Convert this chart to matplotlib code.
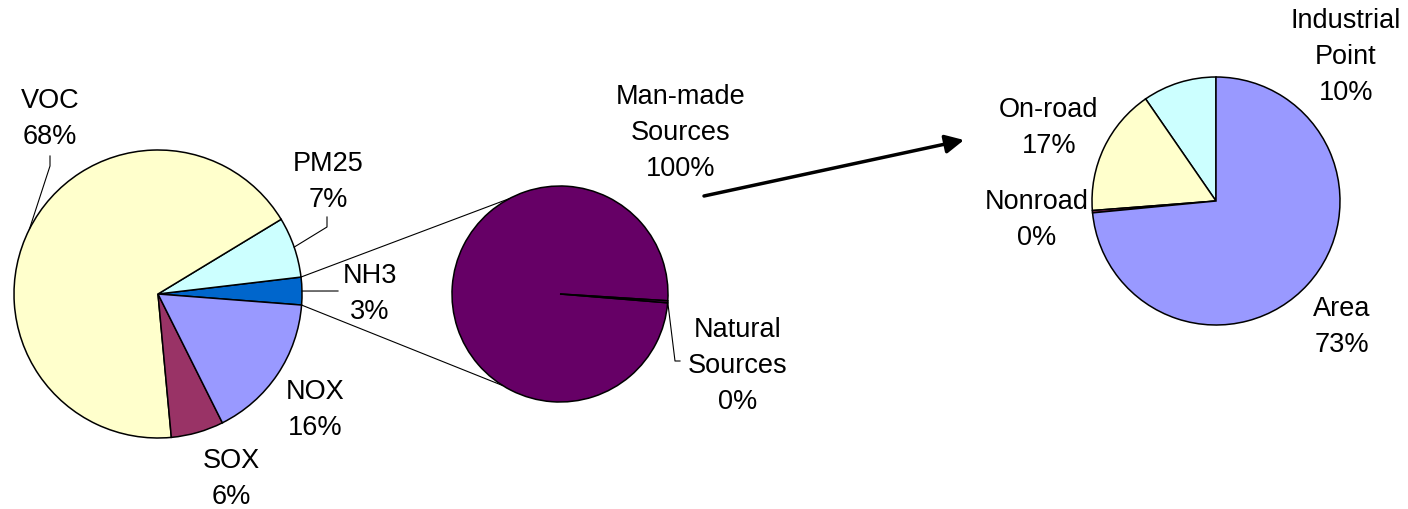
#!/usr/bin/env python3
# -*- coding: utf-8 -*-
#
# 排放源饼图 (pie of pie + breakdown)
#

import matplotlib.pyplot as plt
import numpy as np

plt.rcParams['font.family'] = ['Liberation Sans', 'DejaVu Sans']
plt.rcParams['font.size'] = 19.5

W, H = 1408, 510

# 左图：污染物
pollutants = ['NH3', 'PM25', 'VOC', 'SOX', 'NOX']
pollutant_pct = [3.1, 6.8, 67.8, 5.9, 16.4]
pollutant_colors = ['#0066CC', '#CCFFFF', '#FFFFCC', '#993366', '#9999FF']

# 中图：NH3 来源
sources = ['Man-made\nSources', 'Natural\nSources']
source_pct = [99.7, 0.3]
source_colors = ['#660066', '#660066']

# 右图：人为来源分类
sectors = ['Industrial\nPoint', 'On-road', 'Nonroad', 'Area']
sector_pct = [9.6, 16.6, 0.3, 73.4]
sector_colors = ['#CCFFFF', '#FFFFCC', '#993366', '#9999FF']


def px(x, y):
    """像素坐标 (原点左上) -> 数据坐标"""
    return x, H - y


def edge_point(center, r, ang):
    a = np.deg2rad(ang)
    return center[0] + r * np.cos(a), center[1] + r * np.sin(a)


fig = plt.figure(figsize=(W / 100, H / 100), dpi=100)
ax = fig.add_axes([0, 0, 1, 1])

wp = dict(edgecolor='black', linewidth=1.1)

c1, r1 = px(158, 295), 144
c2, r2 = px(560, 295), 108
c3, r3 = px(1216, 202), 124

w1, _ = ax.pie(pollutant_pct, colors=pollutant_colors, startangle=-4.4,
               center=c1, radius=r1, wedgeprops=wp)
w2, _ = ax.pie(source_pct, colors=source_colors, startangle=-3.6,
               center=c2, radius=r2, wedgeprops=wp)
w3, _ = ax.pie(sector_pct, colors=sector_colors, startangle=90,
               center=c3, radius=r3, wedgeprops=wp)

ax.set_xlim(0, W)
ax.set_ylim(0, H)
ax.set_aspect('equal')
ax.axis('off')

# 标签位置 (像素, 文本块中心)
label_pos = {
    'NH3': (370, 294), 'PM25': (328, 182), 'VOC': (50, 119),
    'SOX': (231, 479), 'NOX': (315, 410),
    'Man-made\nSources': (681, 133), 'Natural\nSources': (738, 366),
    'Industrial\nPoint': (1346, 57), 'On-road': (1049, 128),
    'Nonroad': (1037, 220), 'Area': (1342, 327),
}
# 引线 (起点, 折点)
leaders = {
    'VOC': [(50, 157), (50, 167)],
    'PM25': [(327, 218), (327, 228)],
    'NH3': [(338, 292)],
    'Natural\nSources': [(680, 362), (675, 362)],
}

groups = [(pollutants, pollutant_pct, w1, c1, r1),
          (sources, source_pct, w2, c2, r2),
          (sectors, sector_pct, w3, c3, r3)]

for names, vals, wedges, c, r in groups:
    for name, v, w in zip(names, vals, wedges):
        x, y = px(*label_pos[name])
        ax.text(x, y, f'{name}\n{v:.0f}%', ha='center', va='center',
                linespacing=1.5)
        if name in leaders:
            pts = [px(*p) for p in leaders[name]]
            mid = (w.theta1 + w.theta2) / 2
            pts.append(edge_point(c, r, mid))
            xs, ys = zip(*pts)
            ax.plot(xs, ys, color='black', lw=0.8)

# 连接线：NH3 扇区 -> 中图
nh3 = w1[0]
for ang_src, ang_dst in [(nh3.theta2, 118), (nh3.theta1, 238)]:
    p1 = edge_point(c1, r1, ang_src)
    p2 = edge_point(c2, r2, ang_dst)
    ax.plot([p1[0], p2[0]], [p1[1], p2[1]], color='black', lw=0.8)

# 箭头
ax.annotate('', xy=px(964, 141), xytext=px(704, 197),
            arrowprops=dict(arrowstyle='-|>', color='black', lw=2.5,
                            mutation_scale=28, shrinkA=0, shrinkB=0))

plt.savefig('out.png', dpi=100, facecolor='white')
plt.close()
